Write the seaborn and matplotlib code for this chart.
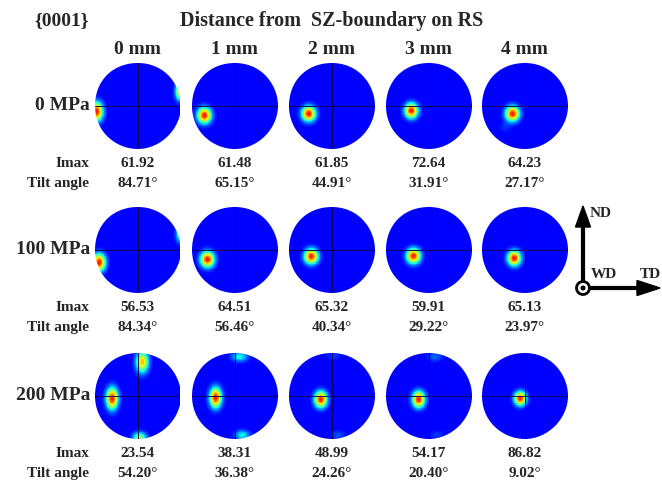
import numpy as np
import pandas as pd
import matplotlib
matplotlib.use("Agg")
import matplotlib.pyplot as plt
from matplotlib.patches import Circle, FancyArrow
import seaborn as sns

# labels and values
distances = ["0 mm", "1 mm", "2 mm", "3 mm", "4 mm"]
stresses = ["0 MPa", "100 MPa", "200 MPa"]
imax = [[61.92, 61.48, 61.85, 72.64, 64.23],
        [56.53, 64.51, 65.32, 59.91, 65.13],
        [23.54, 38.31, 48.99, 54.17, 86.82]]
tilt = [[84.71, 65.15, 44.91, 31.91, 27.17],
        [84.34, 56.46, 40.34, 29.22, 23.97],
        [54.20, 36.38, 24.26, 20.40, 9.02]]

# pole peaks per panel: (u, v, relative strength, spread u, spread v), unit circle
peaks_0mpa = [
    [(-0.95, -0.14, 1.0, 0.10, 0.15), (0.98, 0.33, 0.72, 0.07, 0.14)],
    [(-0.70, -0.23, 1.0, 0.11, 0.125)],
    [(-0.53, -0.19, 1.0, 0.11, 0.12)],
    [(-0.40, -0.12, 1.0, 0.105, 0.12)],
    [(-0.28, -0.19, 1.0, 0.11, 0.12), (-0.45, -0.50, 0.07, 0.10, 0.10)],
]
peaks_100mpa = [
    [(-0.89, -0.30, 1.0, 0.10, 0.14), (0.99, 0.35, 0.42, 0.07, 0.13)],
    [(-0.63, -0.23, 1.0, 0.11, 0.125)],
    [(-0.47, -0.16, 1.0, 0.11, 0.12)],
    [(-0.35, -0.15, 1.0, 0.11, 0.12)],
    [(-0.24, -0.20, 1.0, 0.105, 0.12)],
]
peaks_200mpa = [
    [(-0.59, -0.07, 1.0, 0.095, 0.17), (0.11, 0.78, 0.78, 0.10, 0.17),
     (0.05, -0.98, 0.55, 0.11, 0.09)],
    [(-0.44, -0.05, 1.0, 0.095, 0.16), (0.12, 0.90, 0.36, 0.13, 0.08),
     (0.18, -0.92, 0.34, 0.12, 0.08)],
    [(-0.25, -0.09, 1.0, 0.10, 0.13), (0.15, -0.92, 0.12, 0.12, 0.08),
     (0.05, 0.92, 0.09, 0.12, 0.08)],
    [(-0.23, -0.09, 1.0, 0.10, 0.13), (0.15, 0.90, 0.15, 0.13, 0.08),
     (0.20, -0.92, 0.09, 0.12, 0.08)],
    [(-0.10, -0.07, 1.0, 0.095, 0.11)],
]
all_peaks = [peaks_0mpa, peaks_100mpa, peaks_200mpa]

W, H = 662, 486
N = 140
col_x = [137.5, 234.5, 331.5, 428.5, 524.5]
row_y = [105.5, 249.5, 395.5]
diam = 86

sns.set_style("white")
plt.rcParams['font.family'] = ['Liberation Serif', 'DejaVu Serif']
plt.rcParams['font.weight'] = 'bold'

fig = plt.figure(figsize=(W / 100, H / 100), dpi=100)
bg = fig.add_axes([0, 0, 1, 1])
bg.set_xlim(0, W)
bg.set_ylim(H, 0)
bg.axis('off')

grid = (np.arange(N) + 0.5) * 2 / N - 1
uu, vv = np.meshgrid(grid, -grid)


def density(peaks):
    f = np.zeros_like(uu)
    for u0, v0, a, su, sv in peaks:
        f += a * np.exp(-((uu - u0) ** 2 / (2 * su ** 2) + (vv - v0) ** 2 / (2 * sv ** 2)))
    inside = uu ** 2 + vv ** 2 <= 1.0
    return f / f[inside].max()


for r, row in enumerate(all_peaks):
    for c, pk in enumerate(row):
        ax = fig.add_axes([(col_x[c] - diam / 2) / W, 1 - (row_y[r] + diam / 2) / H,
                           diam / W, diam / H])
        df = pd.DataFrame(density(pk))
        sns.heatmap(df, ax=ax, cmap='jet', vmin=-0.14, vmax=1.14, cbar=False,
                    xticklabels=False, yticklabels=False, square=True)
        clip = Circle((N / 2, N / 2), N / 2, transform=ax.transData)
        ax.collections[0].set_clip_path(clip)
        l1 = ax.axhline(N / 2, color='#000050', lw=0.65)
        l2 = ax.axvline(N / 2, color='#000050', lw=0.65)
        l1.set_clip_path(clip)
        l2.set_clip_path(clip)
        ax.axis('off')

        bg.text(col_x[c], row_y[r] + 58, f"{imax[r][c]:.2f}", ha='center', va='center', fontsize=11)
        bg.text(col_x[c], row_y[r] + 78, f"{tilt[r][c]:.2f}°", ha='center', va='center', fontsize=11)

    bg.text(90, row_y[r], stresses[r], ha='right', va='center', fontsize=14)
    bg.text(89, row_y[r] + 58, "Imax", ha='right', va='center', fontsize=11)
    bg.text(89, row_y[r] + 78, "Tilt angle", ha='right', va='center', fontsize=11)

for c, d in enumerate(distances):
    bg.text(col_x[c], 50, d, ha='center', va='center', fontsize=14)

bg.text(34, 21, "{0001}", ha='left', va='center', fontsize=14)
bg.text(332, 21, "Distance from  SZ-boundary on RS", ha='center', va='center', fontsize=14.5)

# sample axes triad
ox, oy = 583, 288
bg.add_patch(FancyArrow(ox, oy - 7, 0, -75, width=2.8, head_width=15, head_length=21,
                        length_includes_head=True, color='k'))
bg.add_patch(FancyArrow(ox + 7, oy, 70, 0, width=2.8, head_width=15, head_length=23,
                        length_includes_head=True, color='k'))
bg.add_patch(Circle((ox, oy), 6.5, fill=False, lw=2, color='k'))
bg.add_patch(Circle((ox, oy), 1.8, color='k'))
bg.text(590, 213, "ND", ha='left', va='center', fontsize=11)
bg.text(591, 274, "WD", ha='left', va='center', fontsize=11)
bg.text(640, 274, "TD", ha='left', va='center', fontsize=11)

fig.savefig("out.png", dpi=100, facecolor='white')
